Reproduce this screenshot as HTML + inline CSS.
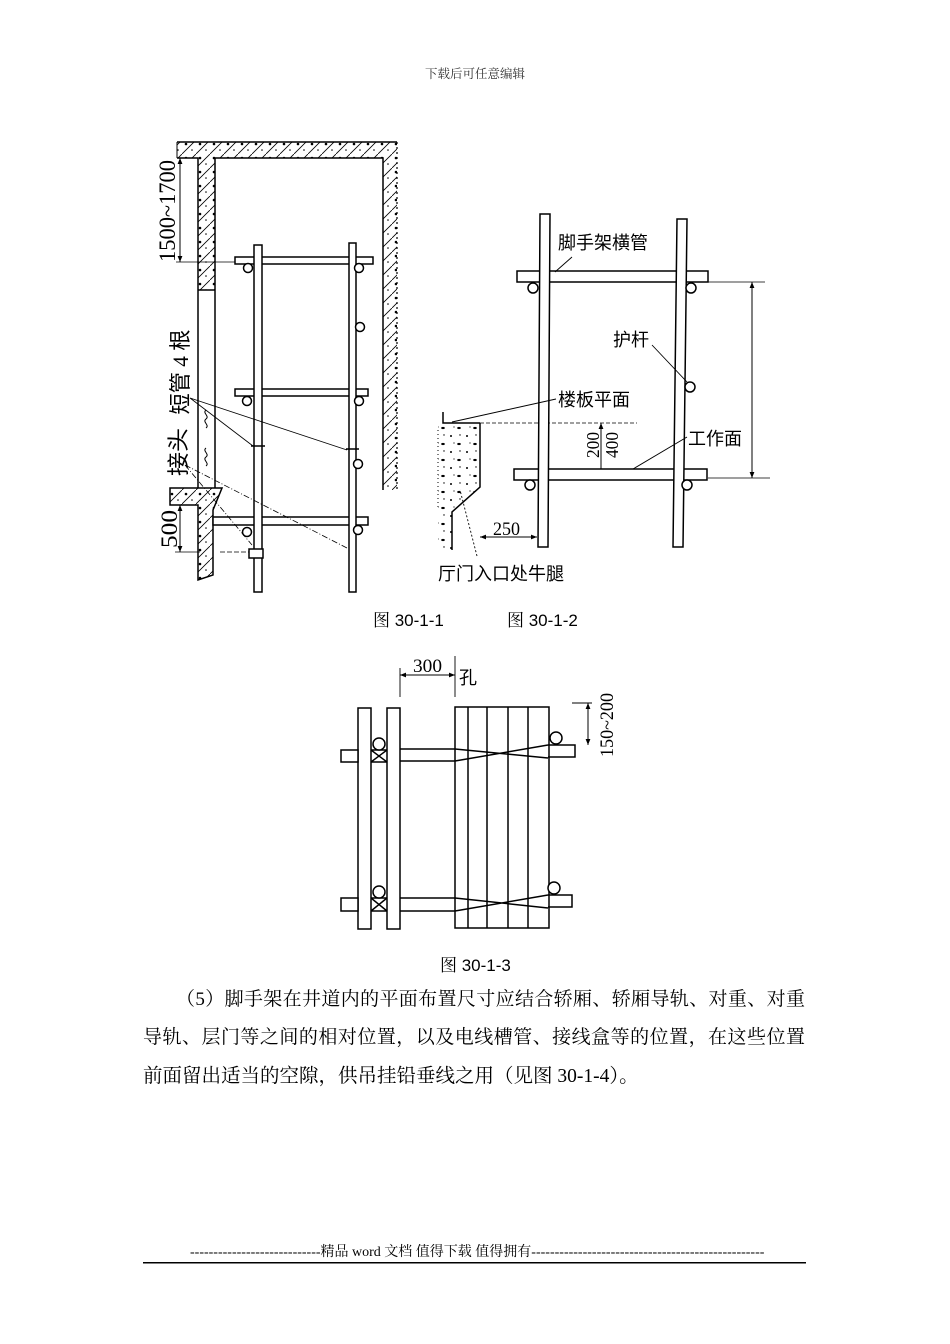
<!DOCTYPE html>
<html><head><meta charset="utf-8">
<style>
html,body{margin:0;padding:0;background:#fff;}
body{width:950px;height:1344px;position:relative;overflow:hidden;}
.t{position:absolute;font-family:"Liberation Serif","Noto Serif CJK SC",serif;color:#000;white-space:nowrap;}
svg{position:absolute;left:0;top:0;}
</style></head><body>
<div class="t" style="left:0;width:950px;top:66px;text-align:center;font-size:12.5px;color:#333;line-height:16px;">下载后可任意编辑</div>

<svg width="950" height="1344" viewBox="0 0 950 1344" xmlns="http://www.w3.org/2000/svg">
<defs>
<pattern id="conc" width="14" height="14" patternUnits="userSpaceOnUse">
<line x1="0" y1="14" x2="14" y2="0" stroke="#000" stroke-width="0.8"/>
<circle cx="4" cy="4" r="1.3" fill="#000"/>
<circle cx="10" cy="10" r="0.8" fill="#000"/>
</pattern>
<pattern id="dots" width="16" height="16" patternUnits="userSpaceOnUse">
<circle cx="3" cy="4" r="1" fill="#000"/>
<ellipse cx="11" cy="12" rx="1.8" ry="1.1" fill="#000"/>
<circle cx="12" cy="3" r="0.7" fill="#000"/>
<circle cx="6" cy="11" r="0.6" fill="#000"/>
</pattern>
<marker id="ar" viewBox="0 0 10 10" refX="10" refY="5" markerWidth="8" markerHeight="6" markerUnits="userSpaceOnUse" orient="auto-start-reverse">
<path d="M0,1 L10,5 L0,9z" fill="#000"/>
</marker>
</defs>

<!-- ============ FIG 30-1-1 ============ -->
<g stroke="#000" stroke-width="1.5" fill="none">
<rect x="177" y="142" width="220" height="16" fill="url(#conc)" stroke="none"/>
<rect x="198" y="158" width="17" height="132" fill="url(#conc)" stroke="none"/>
<rect x="383" y="158" width="14" height="332" fill="url(#conc)" stroke="none"/>
<path d="M177,142 H397"/>
<path d="M177,158 H198 V488"/>
<path d="M215,158 H383 V490"/>
<path d="M215,158 V488"/>
<path d="M198,290 H215"/>
<path d="M397,142 V490" stroke-dasharray="2 3" stroke-width="1.2"/>
<path d="M177,142 V158" stroke-width="1"/>
<!-- corbel -->
<path d="M170,488 H222 L213,510 V575 L198,580 V505 H170 Z" fill="url(#conc)"/>
<!-- break marks -->
<path d="M206,410 c-4,3 4,6 0,9 c-4,3 4,6 0,9" stroke-width="1"/>
<path d="M206,448 c-4,3 4,6 0,9 c-4,3 4,6 0,9" stroke-width="1"/>
<!-- dimensions -->
<path d="M180,158 V262" stroke-width="1" marker-start="url(#ar)" marker-end="url(#ar)"/>
<path d="M176,262 H240" stroke-width="0.8"/>
<path d="M180,505 V552" stroke-width="1" marker-start="url(#ar)" marker-end="url(#ar)"/>
<path d="M175,552 H200" stroke-width="0.8"/>
<path d="M220,552 H250" stroke-width="0.8" stroke-dasharray="5 2"/>
<!-- tubes -->
<rect x="235" y="257" width="138" height="7" fill="#fff"/>
<rect x="235" y="389" width="133" height="7" fill="#fff"/>
<rect x="213" y="517" width="155" height="8" fill="#fff"/>
<!-- poles -->
<rect x="254" y="245" width="8" height="347" fill="#fff"/>
<rect x="349" y="243" width="7" height="349" fill="#fff"/>
<path d="M251,446 H265 M346,449 H359" stroke-width="1.5"/>
<rect x="249" y="549" width="14" height="9" fill="#fff"/>
<!-- circles -->
<circle cx="248" cy="268" r="4.5" fill="#fff"/>
<circle cx="359" cy="268" r="4.5" fill="#fff"/>
<circle cx="247" cy="401" r="4.5" fill="#fff"/>
<circle cx="359" cy="401" r="4.5" fill="#fff"/>
<circle cx="247" cy="532" r="4.5" fill="#fff"/>
<circle cx="358" cy="530" r="4.5" fill="#fff"/>
<circle cx="360" cy="327" r="4.5" fill="#fff"/>
<circle cx="358" cy="464" r="4.5" fill="#fff"/>
<!-- leaders -->
<path d="M190,398 L253,446 M190,398 L347,450" stroke-width="0.8"/>
<path d="M185,465 L252,545 M185,465 L347,548" stroke-width="0.8" stroke-dasharray="6 2 1 2"/>
</g>
<g fill="#000">
<text transform="translate(175,211) rotate(-90)" text-anchor="middle" font-family="'Liberation Serif',serif" font-size="23" textLength="102" lengthAdjust="spacingAndGlyphs">1500~1700</text>
<text transform="translate(177,529) rotate(-90)" text-anchor="middle" font-family="'Liberation Serif',serif" font-size="23" textLength="38" lengthAdjust="spacingAndGlyphs">500</text>
<text transform="translate(188,372) rotate(-90)" text-anchor="middle" font-family="'Liberation Serif','Noto Sans CJK SC',sans-serif" font-size="22" textLength="85" lengthAdjust="spacingAndGlyphs">短管 4 根</text>
<text transform="translate(186,452) rotate(-90)" text-anchor="middle" font-family="'Liberation Serif','Noto Sans CJK SC',sans-serif" font-size="22" textLength="48" lengthAdjust="spacingAndGlyphs">接头</text>
</g>

<!-- ============ FIG 30-1-2 ============ -->
<g stroke="#000" stroke-width="1.5" fill="none">
<path d="M438,424 H480 V487 L452,512 V550 H438 Z" fill="url(#dots)" stroke="none"/>
<path d="M443,412 V423 H480"/>
<path d="M480,423 H637" stroke-dasharray="4 2" stroke-width="0.8"/>
<path d="M480,423 V487 L452,512 V550"/>
<path d="M438,430 V510" stroke-dasharray="1 3" stroke-width="1"/>
<!-- tubes -->
<rect x="517" y="271" width="191" height="11" fill="#fff"/>
<rect x="514" y="469" width="193" height="11" fill="#fff"/>
<!-- poles -->
<polygon points="540,214 550,214 548,547 538,547" fill="#fff"/>
<polygon points="677,219 687,219 683,547 673,547" fill="#fff"/>
<circle cx="533" cy="288" r="5" fill="#fff"/>
<circle cx="691" cy="288" r="5" fill="#fff"/>
<circle cx="530" cy="485" r="5" fill="#fff"/>
<circle cx="687" cy="485" r="5" fill="#fff"/>
<circle cx="690" cy="387" r="5" fill="#fff"/>
<!-- dims -->
<path d="M708,282 H765 M708,478 H770" stroke-width="0.8"/>
<path d="M752,282 V478" stroke-width="1" marker-start="url(#ar)" marker-end="url(#ar)"/>
<path d="M601,469 V423" stroke-width="1" marker-end="url(#ar)"/>
<path d="M480,537 H537" stroke-width="1" marker-start="url(#ar)" marker-end="url(#ar)"/>
<!-- leaders -->
<path d="M572,257 L555,272" stroke-width="0.9"/>
<path d="M652,345 L687,382" stroke-width="0.9"/>
<path d="M556,399 L452,422" stroke-width="0.9"/>
<path d="M687,437 L633,469" stroke-width="0.9"/>
<path d="M477,556 L460,490" stroke-width="0.9" stroke-dasharray="2 2"/>
</g>
<g fill="#000" font-family="'Liberation Sans','Noto Sans CJK SC',sans-serif" font-size="18">
<text x="558" y="249">脚手架横管</text>
<text x="613" y="346">护杆</text>
<text x="558" y="406">楼板平面</text>
<text x="688" y="445">工作面</text>
<text x="438" y="580">厅门入口处牛腿</text>
<text x="493" y="535" font-family="'Liberation Serif',serif" font-size="19" textLength="27" lengthAdjust="spacingAndGlyphs">250</text>
<text transform="translate(599,445) rotate(-90)" text-anchor="middle" font-family="'Liberation Serif',serif" font-size="18" textLength="26" lengthAdjust="spacingAndGlyphs">200</text>
<text transform="translate(618,445) rotate(-90)" text-anchor="middle" font-family="'Liberation Serif',serif" font-size="18" textLength="26" lengthAdjust="spacingAndGlyphs">400</text>
</g>

<!-- captions -->
<g fill="#000" font-family="'Liberation Sans','Noto Serif CJK SC',sans-serif" font-size="17">
<text x="373" y="626">图 30-1-1</text>
<text x="507" y="626">图 30-1-2</text>
<text x="440" y="971">图 30-1-3</text>
</g>

<!-- ============ FIG 30-1-3 ============ -->
<g stroke="#000" stroke-width="1.5" fill="none">
<!-- planks -->
<rect x="455" y="707" width="94" height="221" fill="#fff"/>
<path d="M468,707 V928 M487,707 V928 M508,707 V928 M528,707 V928"/>
<!-- poles -->
<rect x="358" y="708" width="13" height="221" fill="#fff"/>
<rect x="387" y="708" width="13" height="221" fill="#fff"/>
<!-- upper tube -->
<rect x="341" y="750" width="17" height="12" fill="#fff"/>
<path d="M371,750 H387 M371,762 H387 M371,750 L387,762 M371,762 L387,750"/>
<path d="M400,749 H455 M400,761 H455"/>
<path d="M455,749 L548,758 M455,761 L548,745"/>
<path d="M548,745 H575 V757 H548"/>
<!-- lower tube -->
<rect x="341" y="898" width="17" height="13" fill="#fff"/>
<path d="M371,898 H387 M371,911 H387 M371,898 L387,911 M371,911 L387,898"/>
<path d="M400,898 H455 M400,911 H455"/>
<path d="M455,898 L548,908 M455,911 L548,895"/>
<path d="M548,895 H572 V907 H548"/>
<circle cx="379" cy="744" r="6" fill="#fff"/>
<circle cx="556" cy="738" r="6" fill="#fff"/>
<circle cx="379" cy="892" r="6" fill="#fff"/>
<circle cx="554" cy="888" r="6" fill="#fff"/>
<!-- dims -->
<path d="M400,668 V697 M455,656 V697" stroke-width="0.9"/>
<path d="M400,675 H455" stroke-width="1" marker-start="url(#ar)" marker-end="url(#ar)"/>
<path d="M572,703 H592" stroke-width="0.9"/>
<path d="M588,703 V745" stroke-width="1" marker-start="url(#ar)" marker-end="url(#ar)"/>
</g>
<g fill="#000">
<text x="413" y="672" font-family="'Liberation Serif',serif" font-size="19" textLength="29" lengthAdjust="spacingAndGlyphs">300</text>
<text x="459" y="684" font-family="'Liberation Sans','Noto Sans CJK SC',sans-serif" font-size="18">孔</text>
<text transform="translate(613,725) rotate(-90)" text-anchor="middle" font-family="'Liberation Serif',serif" font-size="19" textLength="64" lengthAdjust="spacingAndGlyphs">150~200</text>
</g>

<!-- footer line -->
<rect x="143" y="1262" width="663" height="1.5" fill="#000"/>
</svg>

<div class="t" style="left:176px;top:987px;width:629px;font-size:19px;line-height:26px;text-align:justify;text-align-last:justify;white-space:normal;">（5）脚手架在井道内的平面布置尺寸应结合轿厢、轿厢导轨、对重、对重</div>
<div class="t" style="left:143px;top:1025px;width:662px;font-size:19px;line-height:26px;text-align:justify;text-align-last:justify;white-space:normal;">导轨、层门等之间的相对位置，以及电线槽管、接线盒等的位置，在这些位置</div>
<div class="t" style="left:143px;top:1064px;font-size:19.5px;line-height:26px;">前面留出适当的空隙，供吊挂铅垂线之用（见图 30-1-4）。</div>

<div class="t" style="left:190px;top:1244px;font-size:14px;line-height:18px;">----------------------------精品 word 文档 值得下载 值得拥有--------------------------------------------------</div>
</body></html>
